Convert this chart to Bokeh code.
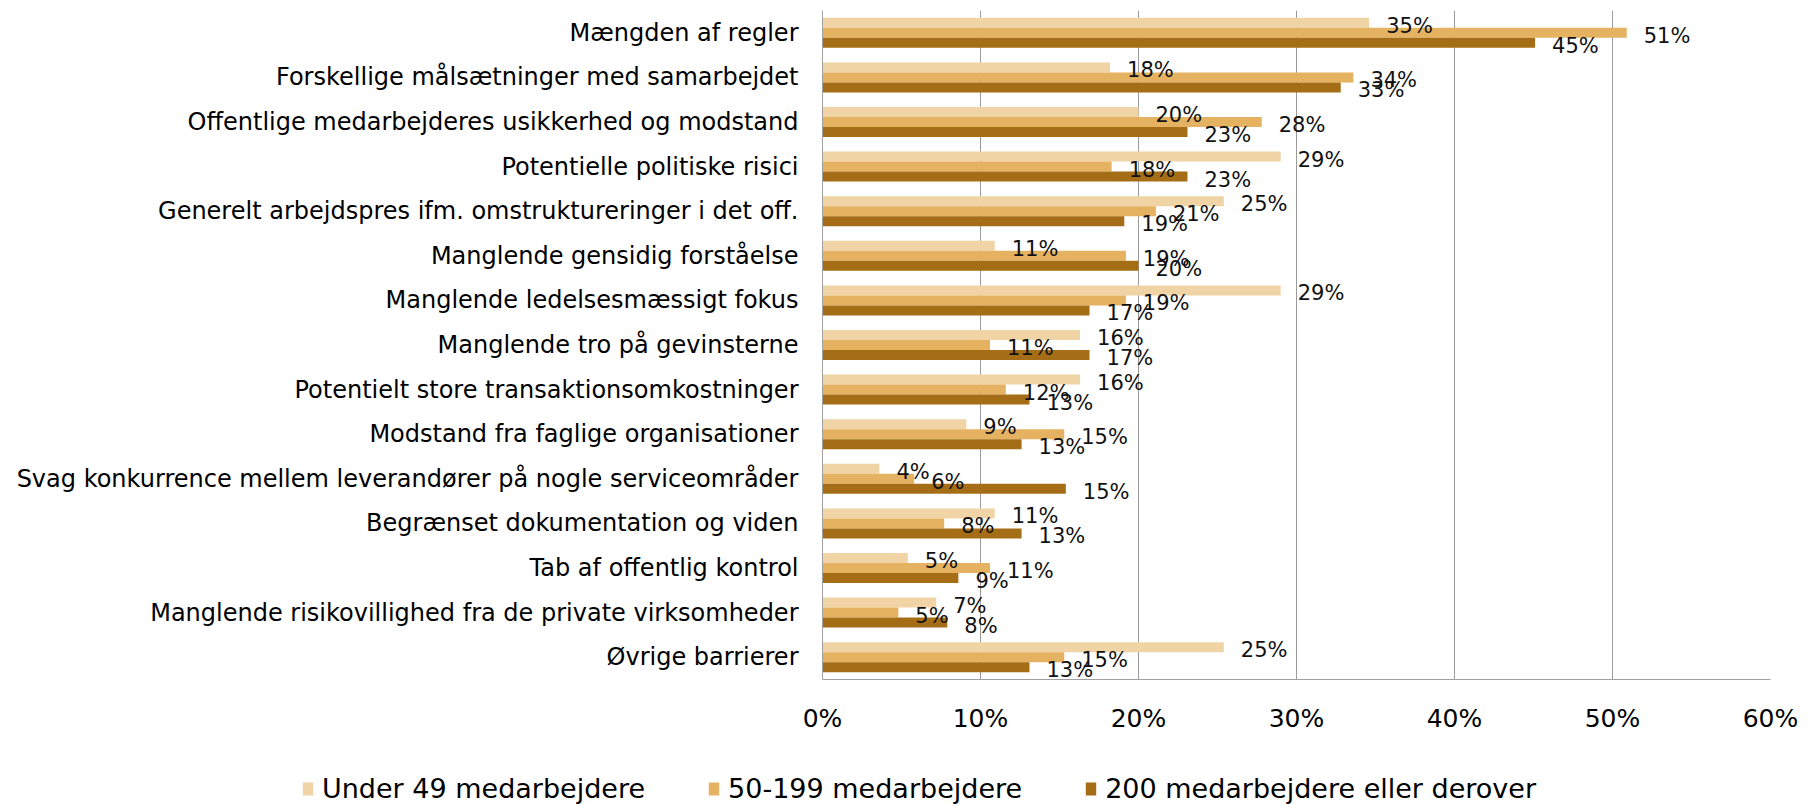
from bokeh.plotting import figure
from bokeh.models import (ColumnDataSource, FactorRange, Range1d, FixedTicker,
                          PrintfTickFormatter, Legend, LegendItem)
from bokeh.transform import dodge
from bokeh.core.properties import value
from bokeh.embed import file_html
from bokeh.resources import INLINE

categories = [
    "Mængden af regler",
    "Forskellige målsætninger med samarbejdet",
    "Offentlige medarbejderes usikkerhed og modstand",
    "Potentielle politiske risici",
    "Generelt arbejdspres ifm. omstruktureringer i det off.",
    "Manglende gensidig forståelse",
    "Manglende ledelsesmæssigt fokus",
    "Manglende tro på gevinsterne",
    "Potentielt store transaktionsomkostninger",
    "Modstand fra faglige organisationer",
    "Svag konkurrence mellem leverandører på nogle serviceområder",
    "Begrænset dokumentation og viden",
    "Tab af offentlig kontrol",
    "Manglende risikovillighed fra de private virksomheder",
    "Øvrige barrierer",
]
under_49 = [34.6, 18.2, 20.0, 29.0, 25.4, 10.9, 29.0, 16.3, 16.3, 9.1, 3.6, 10.9, 5.4, 7.2, 25.4]
m_50_199 = [50.9, 33.6, 27.8, 18.3, 21.1, 19.2, 19.2, 10.6, 11.6, 15.3, 5.8, 7.7, 10.6, 4.8, 15.3]
m_200_plus = [45.1, 32.8, 23.1, 23.1, 19.1, 20.0, 16.9, 16.9, 13.1, 12.6, 15.4, 12.6, 8.6, 7.9, 13.1]
series_names = ["Under 49 medarbejdere", "50-199 medarbejdere", "200 medarbejdere eller derover"]
x_ticks = [0, 10, 20, 30, 40, 50, 60]

colors = ["#F1D4A6", "#E5B261", "#A56E16"]
FONT = "DejaVu Sans"

src = ColumnDataSource(dict(
    cat=categories,
    s0=under_49, s1=m_50_199, s2=m_200_plus,
    l0=[f"{round(v)}%" for v in under_49],
    l1=[f"{round(v)}%" for v in m_50_199],
    l2=[f"{round(v)}%" for v in m_200_plus],
))

W = 1800
H1, H2 = 772, 32
p = figure(width=W, height=H1, output_backend="svg", toolbar_location=None,
           y_range=FactorRange(*reversed(categories)), x_range=Range1d(0, 60),
           min_border_left=822, min_border_right=W - 1770, min_border_top=10,
           min_border_bottom=H1 - 679)
p.outline_line_color = None
p.background_fill_color = "white"
p.border_fill_color = "white"

bh = 0.224
offsets = [bh, 0.0, -bh]
for i, off in enumerate(offsets):
    p.hbar(y=dodge("cat", off, range=p.y_range), right=f"s{i}", left=0,
           height=bh, source=src, fill_color=colors[i], line_color=None)
for i, off in enumerate(offsets):
    p.text(x=f"s{i}", y=dodge("cat", off, range=p.y_range), text=f"l{i}",
           source=src, x_offset=17, y_offset=3, text_align="left",
           text_baseline="middle", text_font=value(FONT),
           text_font_size="21px", text_color="#111111")

# axes
p.xaxis.ticker = FixedTicker(ticks=x_ticks)
p.xaxis.formatter = PrintfTickFormatter(format="%d%%")
p.xaxis.major_label_text_font = FONT
p.xaxis.major_label_text_font_size = "25px"
p.xaxis.major_label_text_color = "#000000"
p.xaxis.major_tick_line_color = None
p.xaxis.minor_tick_line_color = None
p.xaxis.axis_line_color = "#A0A0A0"
p.xaxis.major_label_standoff = 18

p.yaxis.major_label_text_font = FONT
p.yaxis.major_label_text_font_size = "24px"
p.yaxis.major_label_text_color = "#000000"
p.yaxis.major_tick_line_color = None
p.yaxis.minor_tick_line_color = None
p.yaxis.axis_line_color = "#A0A0A0"
p.yaxis.major_label_standoff = 18

p.xgrid.ticker = FixedTicker(ticks=x_ticks)
p.xgrid.grid_line_color = "#9A9A9A"
p.ygrid.grid_line_color = None

# legend strip (separate root so its frame is not aligned with the chart's)
p2 = figure(width=W, height=H2, output_backend="svg", toolbar_location=None,
            x_axis_type=None, y_axis_type=None, min_border=0,
            min_border_left=301, x_range=Range1d(0, 1), y_range=Range1d(0, 1))
p2.outline_line_color = None
p2.background_fill_color = "white"
p2.border_fill_color = "white"
# zero-size swatch carriers, only used to give the legend its colours
leg_renderers = [p2.hbar(y=[0], left=[0], right=[0], height=0, fill_color=c, line_color=None)
                 for c in colors]
legend = Legend(items=[LegendItem(label=series_names[i], renderers=[leg_renderers[i]]) for i in range(3)],
                orientation="horizontal", location="left",
                glyph_width=13, glyph_height=16, label_standoff=8, spacing=62,
                padding=0, margin=0, border_line_color=None,
                background_fill_alpha=0,
                label_text_font=FONT, label_text_font_size="27px",
                label_text_color="#000000")
p2.add_layout(legend, "center")

open("out.html", "w").write(file_html([p, p2], INLINE))
